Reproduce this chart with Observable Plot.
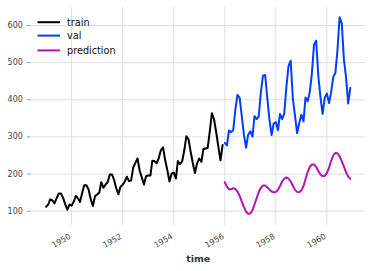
<!DOCTYPE html>
<html><head><meta charset="utf-8">
<script src="https://cdn.jsdelivr.net/npm/d3@7"></script>
<script src="https://cdn.jsdelivr.net/npm/@observablehq/plot@0.6"></script>
<style>
body{margin:0;background:#fff;}
#wrap{position:relative;width:371px;height:271px;}
#legend{position:absolute;left:0;top:0;}
</style></head><body><div id="wrap"></div>
<script>
// monthly series, train starts 1949-01, val & prediction start 1956-01
const trainValues = [
  112,118,132,129,121,135,148,148,136,119,104,118,
  115,126,141,135,125,149,170,170,158,133,114,140,
  145,150,178,163,172,178,199,199,184,162,146,166,
  171,180,193,181,183,218,230,242,209,191,172,194,
  196,196,236,235,229,243,264,272,237,211,180,201,
  204,188,235,227,234,264,302,293,259,229,203,229,
  242,233,267,269,270,315,364,347,312,274,237,278
];
const valValues = [
  284,277,317,313,318,374,413,405,355,306,271,306,
  315,301,356,348,355,422,465,467,404,347,305,336,
  340,318,362,348,363,435,491,505,404,359,310,337,
  360,342,406,396,420,472,548,559,463,407,362,405,
  417,391,419,461,472,535,622,606,508,461,390,432
];
const predValues = [
  178,166,159,159,162,160,153,141,126,111,99,93,
  94,103,118,135,151,163,169,169,164,158,153,151,
  152,158,168,180,188,191,188,180,169,158,152,151,
  156,168,186,205,219,226,226,219,208,199,194,195,
  203,217,235,250,257,256,248,235,220,205,193,187
];
const seriesNames = ["train","val","prediction"];
const seriesColors = ["#000000","#003DFD","#b512b8"];
const yTicks = [100,200,300,400,500,600];
const xTickYears = [1950,1952,1954,1956,1958,1960];

const toRows = (vals, y0, m0, name) => vals.map((v,i)=>({date:new Date(Date.UTC(y0, m0+i, 1)), value:v, series:name}));
const rows = [
  ...toRows(trainValues,1949,0,"train"),
  ...toRows(valValues,1956,0,"val"),
  ...toRows(predValues,1956,0,"prediction")
];
const xTicks = xTickYears.map(y=>new Date(Date.UTC(y,0,1)));
const d0 = Date.UTC(1949,0,1), d1 = Date.UTC(1960,11,1), pad = (d1-d0)*0.05;

const chart = Plot.plot({
  width:371, height:271,
  marginLeft:30.4, marginRight:6, marginTop:7, marginBottom:46,
  style:{fontFamily:"DejaVu Sans", fontSize:"8px", color:"#444", background:"#fff"},
  x:{type:"utc", domain:[new Date(d0-pad), new Date(d1+pad)]},
  y:{domain:[61.5,648.5]},
  color:{domain:seriesNames, range:seriesColors},
  marks:[
    Plot.gridX(xTicks, {stroke:"#dedede", strokeOpacity:1, strokeWidth:1}),
    Plot.gridY(yTicks, {stroke:"#dedede", strokeOpacity:1, strokeWidth:1}),
    Plot.axisY(yTicks, {tickSize:3.5, tickPadding:4.5, stroke:"#999", label:null}),
    Plot.axisX(xTicks, {tickSize:0, tickPadding:10.2, tickRotate:-30, textAnchor:"end", lineAnchor:"middle", dx:-1.5, tickFormat:d=>String(d.getUTCFullYear()), label:null}),
    Plot.line(rows, {x:"date", y:"value", z:"series", stroke:"series", strokeWidth:2}),
    Plot.text(["time"], {frameAnchor:"bottom", dy:33, text:d=>d, fontWeight:"bold", fontSize:9.5, fill:"#333", lineAnchor:"middle"})
  ]
});
const wrap = document.getElementById("wrap");
wrap.appendChild(chart);

// legend
const NS = "http://www.w3.org/2000/svg";
const lg = document.createElementNS(NS,"svg");
lg.setAttribute("id","legend"); lg.setAttribute("width","140"); lg.setAttribute("height","64");
const legendRows = [22.2, 35.6, 50.4];
seriesNames.forEach((name,i)=>{
  const y = legendRows[i];
  const l = document.createElementNS(NS,"line");
  l.setAttribute("x1",37.5); l.setAttribute("x2",60); l.setAttribute("y1",y); l.setAttribute("y2",y);
  l.setAttribute("stroke",seriesColors[i]); l.setAttribute("stroke-width",2);
  lg.appendChild(l);
  const t = document.createElementNS(NS,"text");
  t.setAttribute("x",67); t.setAttribute("y",y); t.setAttribute("dy","0.35em");
  t.setAttribute("font-family","DejaVu Sans"); t.setAttribute("font-size","9.7");
  t.setAttribute("fill","#111");
  t.textContent = name;
  lg.appendChild(t);
});
wrap.appendChild(lg);
</script></body></html>
